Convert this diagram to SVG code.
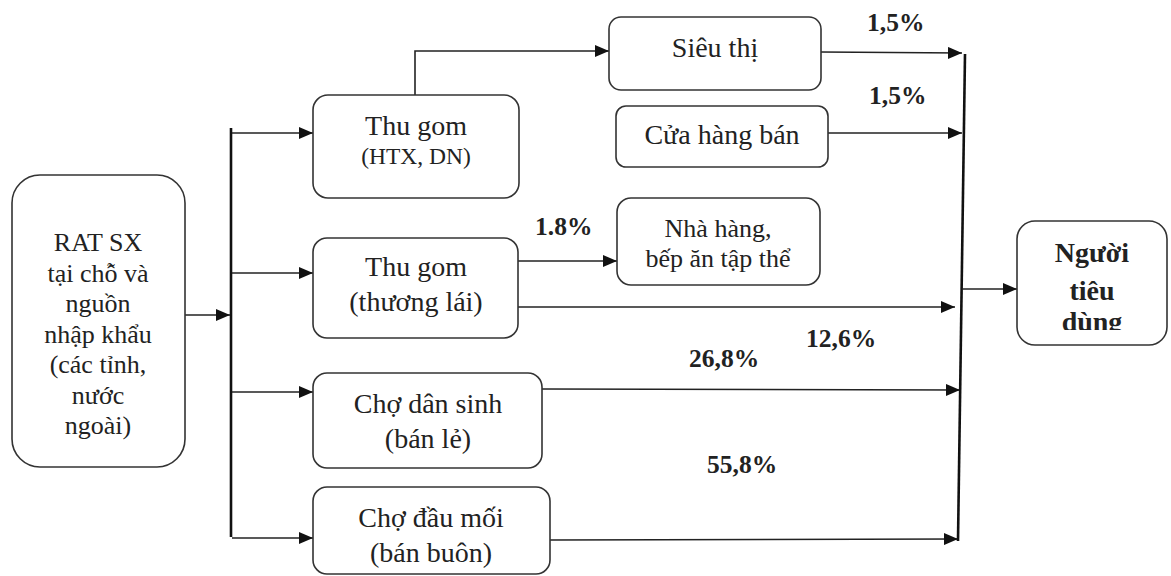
<svg xmlns="http://www.w3.org/2000/svg" width="1171" height="576" viewBox="0 0 1171 576">
<style>
.box{fill:#fff;stroke:#333;stroke-width:1.6}
text{font-family:'Liberation Serif','DejaVu Serif',serif;fill:#222}
.t{font-size:28px;text-anchor:middle}
.m{font-size:26px}
.s{font-size:23.5px}
.b{font-size:25.5px;font-weight:bold}
.bn{font-size:28px;font-weight:bold;text-anchor:middle}
.c{fill:none;stroke:#222;stroke-width:1.6}
.bus{fill:none;stroke:#111;stroke-width:2.6}
</style>
<defs>
<marker id="ah" markerUnits="userSpaceOnUse" markerWidth="14" markerHeight="12" refX="14" refY="6" orient="auto">
<path d="M0,0 L14,6 L0,12 Z" fill="#111"/>
</marker>
<clipPath id="clipN"><rect x="1017" y="221" width="150" height="109"/></clipPath>
</defs>
<g id="connectors">
<line class="c" x1="185" y1="315" x2="230" y2="315" marker-end="url(#ah)"/>
<line class="bus" x1="231" y1="128" x2="231" y2="537"/>
<line class="c" x1="232" y1="133" x2="313" y2="133" marker-end="url(#ah)"/>
<line class="c" x1="232" y1="273" x2="313" y2="273" marker-end="url(#ah)"/>
<line class="c" x1="232" y1="392" x2="313" y2="392" marker-end="url(#ah)"/>
<line class="c" x1="232" y1="538" x2="313" y2="538" marker-end="url(#ah)"/>
<path class="c" d="M415,95 V51 H609" marker-end="url(#ah)"/>
<line class="c" x1="821" y1="52" x2="962" y2="53" marker-end="url(#ah)"/>
<line class="c" x1="828" y1="133" x2="962" y2="133" marker-end="url(#ah)"/>
<line class="c" x1="518" y1="261" x2="617" y2="261" marker-end="url(#ah)"/>
<line class="c" x1="518" y1="307" x2="955" y2="307" marker-end="url(#ah)"/>
<line class="c" x1="542" y1="389" x2="960" y2="390" marker-end="url(#ah)"/>
<line class="c" x1="550" y1="540" x2="958" y2="539" marker-end="url(#ah)"/>
<line class="bus" x1="965" y1="54" x2="958" y2="541"/>
<line class="c" x1="962" y1="289" x2="1017" y2="289" marker-end="url(#ah)"/>
</g>
<g id="n-source">
<rect class="box" x="12" y="175" width="173" height="292" rx="28" stroke-width="2"/>
<text class="t m" x="98" y="251">RAT SX</text>
<text class="t m" x="98" y="282">tại chỗ và</text>
<text class="t m" x="98" y="312">nguồn</text>
<text class="t m" x="98" y="343">nhập khẩu</text>
<text class="t m" x="98" y="373">(các tỉnh,</text>
<text class="t m" x="98" y="404">nước</text>
<text class="t m" x="98" y="434">ngoài)</text>
</g>
<g id="n-thugom-htx">
<rect class="box" x="313" y="95" width="206" height="103" rx="15"/>
<text class="t" x="416" y="135">Thu gom</text>
<text class="t s" x="416" y="164">(HTX, DN)</text>
</g>
<g id="n-sieuthi">
<rect class="box" x="609" y="17" width="212" height="73" rx="12"/>
<text class="t" x="715" y="57">Siêu thị</text>
</g>
<g id="n-cuahang">
<rect class="box" x="616" y="106" width="212" height="61" rx="10"/>
<text class="t" x="722" y="144">Cửa hàng bán</text>
</g>
<g id="n-nhahang">
<rect class="box" x="617" y="198" width="203" height="87" rx="14"/>
<text class="t m" x="718" y="237">Nhà hàng,</text>
<text class="t m" x="718" y="267">bếp ăn tập thể</text>
</g>
<g id="n-thugom-tl">
<rect class="box" x="313" y="238" width="205" height="100" rx="14"/>
<text class="t" x="416" y="276">Thu gom</text>
<text class="t" x="416" y="311">(thương lái)</text>
</g>
<g id="n-chodansinh">
<rect class="box" x="313" y="373" width="229" height="95" rx="14"/>
<text class="t" x="428" y="413">Chợ dân sinh</text>
<text class="t" x="428" y="448">(bán lẻ)</text>
</g>
<g id="n-chodaumoi">
<rect class="box" x="313" y="487" width="237" height="87" rx="14"/>
<text class="t" x="431" y="527">Chợ đầu mối</text>
<text class="t" x="431" y="562">(bán buôn)</text>
</g>
<g id="n-nguoitieudung">
<rect class="box" x="1017" y="221" width="150" height="124" rx="18"/>
<g clip-path="url(#clipN)">
<text class="bn" x="1092" y="262">Người</text>
<text class="bn" x="1092" y="300">tiêu</text>
<text class="bn" x="1092" y="331">dùng</text>
</g>
</g>
<g id="labels">
<text class="b" x="867" y="31">1,5%</text>
<text class="b" x="869" y="104">1,5%</text>
<text class="b" x="535" y="235">1.8%</text>
<text class="b" x="806" y="347">12,6%</text>
<text class="b" x="689" y="367">26,8%</text>
<text class="b" x="707" y="473">55,8%</text>
</g>
</svg>
